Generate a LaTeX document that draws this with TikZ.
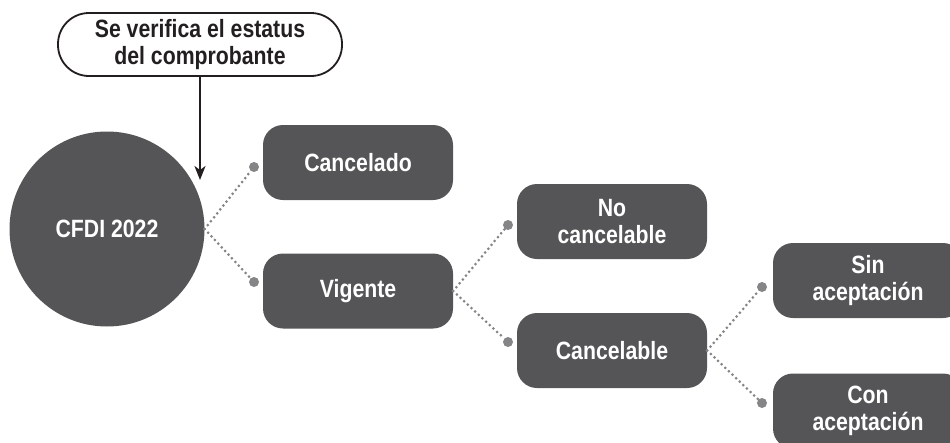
\documentclass[tikz,border=0pt]{standalone}
\usepackage{fontspec}
\setmainfont{Liberation Sans}[FakeStretch=0.85]
\usetikzlibrary{arrows.meta}
\definecolor{boxgray}{HTML}{555557}
\definecolor{dotgray}{HTML}{858587}
\definecolor{inkblack}{HTML}{231F20}
\tikzset{
  lbl/.style={font=\fontsize{25}{27}\selectfont\bfseries, align=center},
  statebox/.style={lbl, fill=boxgray, text=white, rounded corners=20pt,
    minimum width=190pt, minimum height=75pt, inner sep=0pt},
  pill/.style={lbl, draw=inkblack, line width=1.8pt, text=inkblack, rounded corners=31pt,
    minimum width=284pt, minimum height=63pt, inner sep=0pt},
  bigcirc/.style={lbl, circle, fill=boxgray, text=white, minimum size=195pt, inner sep=0pt},
  enddot/.style={circle, fill=dotgray, minimum size=10pt, inner sep=0pt},
  dotline/.style={draw=dotgray, line width=3pt, line cap=round, dash pattern=on 0pt off 5pt},
  arr/.style={draw=inkblack, line width=1.8pt, -{Stealth[length=14pt,width=11pt,inset=4pt]}}
}
\begin{document}
\begin{tikzpicture}[x=1pt,y=-1pt]
\useasboundingbox (0,0) rectangle (950,442);
\clip (0,0) rectangle (950,442);
\node[pill] (top) at (200,44.5) {Se verifica el estatus\\del comprobante};
\node[bigcirc] (cfdi) at (107,229) {CFDI 2022};
\node[statebox] (canc) at (358,162.5) {Cancelado};
\node[statebox] (vig) at (358,291) {Vigente};
\node[statebox] (nocan) at (612,221.5) {No\\cancelable};
\node[statebox] (can) at (612,350.5) {Cancelable};
\node[statebox] (sin) at (868,280.5) {Sin\\aceptación};
\node[statebox] (con) at (868,411) {Con\\aceptación};
\coordinate (tip) at (200,180);
\draw[arr] (top.south -| tip) -- (tip);
\node[enddot] (d1) at (254,167) {};
\node[enddot] (d2) at (254,282) {};
\node[enddot] (d3) at (508,225) {};
\node[enddot] (d4) at (508,342) {};
\node[enddot] (d5) at (762,287) {};
\node[enddot] (d6) at (762,403) {};
\draw[dotline] (cfdi.east) -- (d1);
\draw[dotline] (cfdi.east) -- (d2);
\draw[dotline] (vig.east) -- (d3);
\draw[dotline] (vig.east) -- (d4);
\draw[dotline] (can.east) -- (d5);
\draw[dotline] (can.east) -- (d6);
\end{tikzpicture}
\end{document}
